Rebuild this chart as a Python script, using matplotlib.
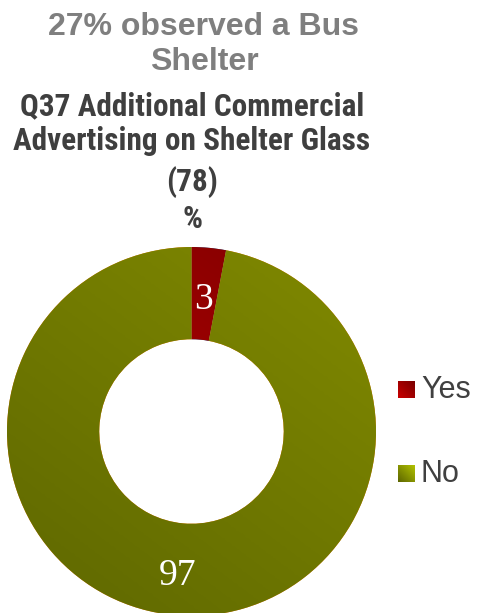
import numpy as np
import matplotlib
matplotlib.use("Agg")
import matplotlib.pyplot as plt
from matplotlib.colors import LinearSegmentedColormap

# Survey responses (%)
categories = ["Yes", "No"]
values = [3, 97]

title_top = ["27% observed a Bus", "Shelter"]
title_main = ["Q37 Additional Commercial", "Advertising on Shelter Glass", "(78)", "%"]

W, H = 479, 613
fig = plt.figure(figsize=(W / 100, H / 100), dpi=100)
ax = fig.add_axes([0, 0, 1, 1])

cx, cy, R = 191.5, H - 431.5, 184.5
hole = 0.50

# gradient fills: light -> dark along a direction
fills = [
    (["#c80000", "#7e0000"], (0.6, 0.8)),
    (["#818a00", "#5e6700"], (-0.6, -0.8)),
]

wedges, _ = ax.pie(values, startangle=90, counterclock=False, radius=R,
                   center=(cx, cy), frame=True,
                   wedgeprops=dict(width=R * (1 - hole), linewidth=0))
ax.set_xlim(0, W)
ax.set_ylim(0, H)
ax.set_aspect("equal")
ax.axis("off")

yy, xx = np.mgrid[-1:1:300j, -1:1:300j]
for w, (cols, (dx, dy)) in zip(wedges, fills):
    cmap = LinearSegmentedColormap.from_list("g", cols)
    im = ax.imshow(xx * dx + yy * dy, cmap=cmap, origin="lower",
                   extent=(cx - R, cx + R, cy - R, cy + R), zorder=2)
    im.set_clip_path(w)

# value labels inside the ring
dists = [0.716, 0.786]
for w, v, d in zip(wedges, values, dists):
    ang = np.deg2rad((w.theta1 + w.theta2) / 2)
    ax.text(cx + R * d * np.cos(ang), cy + R * d * np.sin(ang), str(v),
            ha="center", va="center", color="white", fontsize=27,
            family="Liberation Serif", zorder=5)

# titles
for line, y in zip(title_top, [27, 62]):
    fig.text(204 / W, 1 - y / H, line, ha="center", va="center",
             fontsize=23, fontweight="bold", color="#7f7f7f",
             family="Liberation Sans")
for line, y in zip(title_main, [106, 141, 182, 219]):
    fig.text(192 / W, 1 - y / H, line, ha="center", va="center",
             fontsize=22.5, fontweight="bold", color="#3f3f3f",
             family="Roboto Condensed")

# legend with gradient swatches
leg_cols = [["#c80000", "#7a0000"], ["#b0c000", "#5e6700"]]
leg_dirs = [(0.7, 0.7), (-0.7, -0.7)]
leg_y = [389.5, 474]
for cat, cols, (dx, dy), ly in zip(categories, leg_cols, leg_dirs, leg_y):
    y0 = H - ly
    cmap = LinearSegmentedColormap.from_list("l", cols)
    gy, gx = np.mgrid[-1:1:20j, -1:1:20j]
    ax.imshow(gx * dx + gy * dy, cmap=cmap, origin="lower",
              extent=(398, 415, y0 - 8.5, y0 + 8.5), zorder=3)
    ax.text(421, y0, cat, ha="left", va="center", fontsize=22,
            color="#404040", family="Liberation Sans")

ax.set_xlim(0, W)
ax.set_ylim(0, H)
fig.savefig("out.png", dpi=100, facecolor="white")
